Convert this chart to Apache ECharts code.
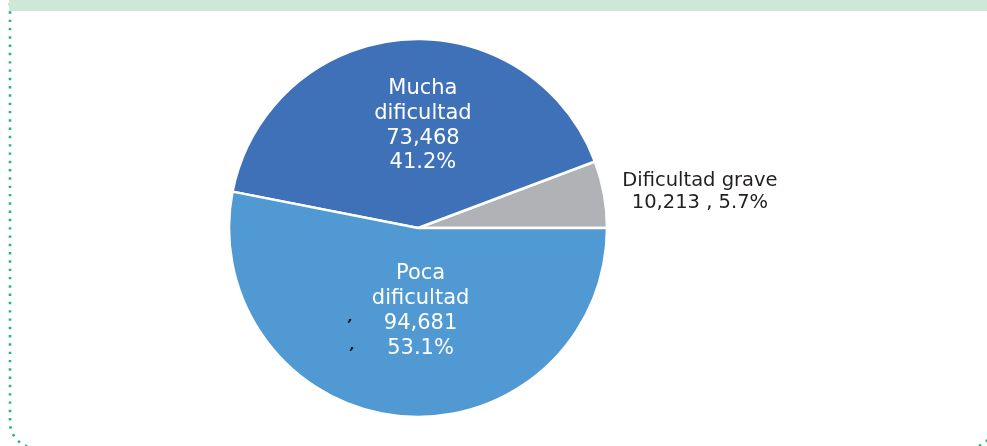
<!DOCTYPE html>
<html>
<head>
<meta charset="utf-8">
<script src="https://cdn.jsdelivr.net/npm/echarts@6/dist/echarts.min.js"></script>
<style>
  html, body { margin: 0; padding: 0; background: #fff; }
  #chart { width: 987px; height: 446px; }
</style>
</head>
<body>
<div id="chart"></div>
<script>
// Grado de dificultad: personas y porcentaje
const categories = ['Dificultad grave', 'Mucha dificultad', 'Poca dificultad'];
const values = [10213, 73468, 94681];
const sliceColors = ['#b1b2b5', '#3e71b7', '#5199d3'];
// label nudges (dx, dy) away from the default inside anchor of each slice
const labelShift = [[186, -19], [13, -5], [12, -14]];

const total = values.reduce((a, b) => a + b, 0);
const fmtNum = v => v.toLocaleString('en-US');
const fmtPct = v => (v / total * 100).toFixed(1) + '%';

const FONT = '"DejaVu Sans", "Noto Sans", sans-serif';

const chart = echarts.init(document.getElementById('chart'), null, { renderer: 'canvas' });

chart.setOption({
  backgroundColor: '#ffffff',
  animation: false,
  graphic: [
    {
      // dotted rounded frame
      type: 'rect',
      z: 1,
      shape: { x: 10, y: -30, width: 985, height: 478, r: 26 },
      style: { fill: 'none', stroke: '#29b574', lineWidth: 2.6, lineDash: [2.4, 5.9], lineCap: 'butt' }
    },
    {
      // header band
      type: 'rect',
      z: 2,
      shape: { x: 9, y: 0, width: 978, height: 11 },
      style: { fill: '#cde8d7' }
    },
    {
      type: 'text', z: 20, left: 348, top: 311,
      style: { text: ',', fill: '#111', font: 'italic bold 13px ' + FONT }
    },
    {
      type: 'text', z: 20, left: 350, top: 339,
      style: { text: ',', fill: '#111', font: 'italic bold 13px ' + FONT }
    }
  ],
  series: [{
    type: 'pie',
    center: [418, 228],
    radius: 189,
    startAngle: 0,
    clockwise: false,
    avoidLabelOverlap: false,
    emphasis: { disabled: true },
    itemStyle: { borderColor: '#ffffff', borderWidth: 2.5 },
    labelLine: { show: false },
    label: {
      show: true,
      position: 'inside',
      fontFamily: FONT,
      formatter: p => {
        if (p.dataIndex === 0) {
          return '{g|' + p.name + '}\n{g|' + fmtNum(p.value) + ' , ' + fmtPct(p.value) + '}';
        }
        const words = p.name.split(' ');
        return words.map(w => '{w|' + w + '}').join('\n') +
          '\n{w|' + fmtNum(p.value) + '}\n{w|' + fmtPct(p.value) + '}';
      },
      rich: {
        w: { color: '#ffffff', fontSize: 21, lineHeight: 24.7, fontFamily: FONT, align: 'center' },
        g: { color: '#231f20', fontSize: 19.5, lineHeight: 22, fontFamily: FONT, align: 'center' }
      }
    },
    labelLayout: p => ({ dx: labelShift[p.dataIndex][0], dy: labelShift[p.dataIndex][1] }),
    data: categories.map((c, i) => ({
      name: c,
      value: values[i],
      itemStyle: { color: sliceColors[i] }
    }))
  }]
});
</script>
</body>
</html>
